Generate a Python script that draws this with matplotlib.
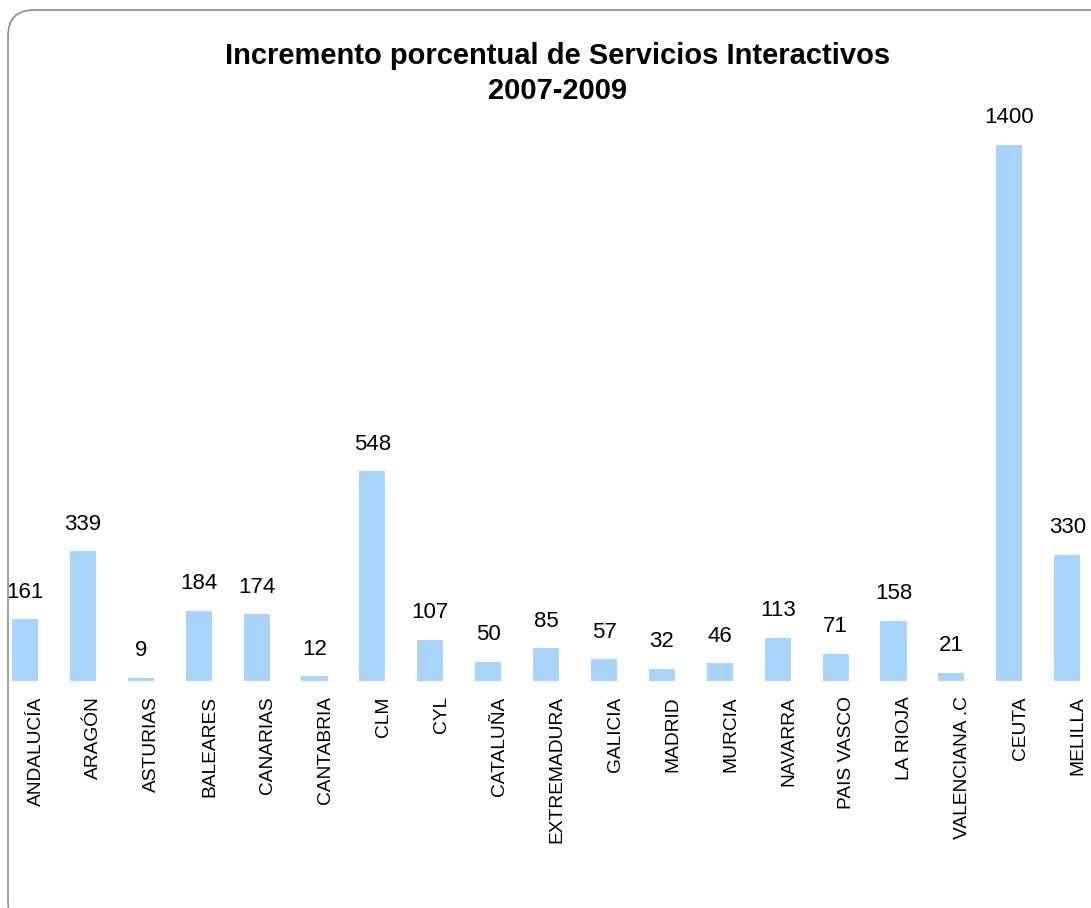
import numpy as np
import matplotlib
matplotlib.use('Agg')
import matplotlib.pyplot as plt
from matplotlib.patches import FancyBboxPatch
from matplotlib.transforms import IdentityTransform

# Datos
comunidades = ['ANDALUCÍA', 'ARAGÓN', 'ASTURIAS', 'BALEARES', 'CANARIAS', 'CANTABRIA',
               'CLM', 'CYL', 'CATALUÑA', 'EXTREMADURA', 'GALICIA', 'MADRID', 'MURCIA',
               'NAVARRA', 'PAIS VASCO', 'LA RIOJA', 'VALENCIANA .C', 'CEUTA', 'MELILLA']
incremento = [161, 339, 9, 184, 174, 12, 548, 107, 50, 85, 57, 32, 46, 113, 71, 158, 21, 1400, 330]

plt.rcParams['font.family'] = ['Liberation Sans', 'DejaVu Sans']

W, H = 1091, 908
fig = plt.figure(figsize=(W / 100, H / 100), dpi=100)

# Marco redondeado (coordenadas en píxeles, origen abajo a la izquierda)
marco = FancyBboxPatch((8, -20), 1120, 918, boxstyle='round,pad=0,rounding_size=26',
                       transform=IdentityTransform(), facecolor='none', edgecolor='#8c8c8c',
                       linewidth=1.2, zorder=0)
fig.patches.append(marco)

# Ejes: centro de la primera barra en x=25 px, separación 57.9 px
sep = 57.9
izq = 25 - sep / 2
ax = fig.add_axes([izq / W, 227 / H, 19 * sep / W, 555 / H])
ax.set_facecolor('none')

x = np.arange(len(comunidades))
barras = ax.bar(x, incremento, width=0.45, color='#A8D4FB', zorder=2)
ax.bar_label(barras, labels=[str(v) for v in incremento], padding=12, fontsize=16, color='black')

ax.set_xlim(-0.5, len(comunidades) - 0.5)
ax.set_ylim(0, 1450)
ax.set_xticks(x + 0.19)
ax.set_xticklabels(comunidades, rotation=90, fontsize=13.8, ha='center', va='top')
ax.tick_params(axis='x', length=0, pad=11)
ax.set_yticks([])
for s in ax.spines.values():
    s.set_visible(False)

# Título
fig.text(558 / W, 1 - 56 / H, 'Incremento porcentual de Servicios Interactivos',
         ha='center', va='center', fontsize=21, fontweight='bold')
fig.text(558 / W, 1 - 91 / H, '2007-2009', ha='center', va='center',
         fontsize=21, fontweight='bold')

plt.savefig('out.png', dpi=100)
plt.close()
